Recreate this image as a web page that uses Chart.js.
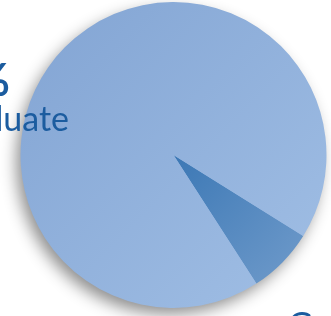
<!DOCTYPE html>
<html>
<head>
<meta charset="utf-8">
<script src="https://cdn.jsdelivr.net/npm/chart.js@4"></script>
<style>
  html, body { margin: 0; padding: 0; background: #fff; overflow: hidden; }
  #wrap { position: relative; width: 331px; height: 316px; overflow: hidden; }
  canvas { position: absolute; left: 0; top: 0; }
  .lbl { position: absolute; color: #1b5c9f; font-family: Lato, sans-serif; white-space: nowrap; line-height: 1; }
  #pct { right: 321px; top: 56px; font-size: 46px; font-weight: bold; }
  #name { right: 262px; top: 101px; font-size: 34px; }
  #grad { left: 288px; top: 307px; font-size: 34px; }
</style>
</head>
<body>
<div id="wrap">
  <canvas id="pie" width="331" height="316"></canvas>
  <div class="lbl" id="pct">93%</div>
  <div class="lbl" id="name">Undergraduate</div>
  <div class="lbl" id="grad">Graduate</div>
</div>
<script>
const labels = ['Graduate', 'Undergraduate'];
const shares = [7, 93];
const colorsFrom = ['#3c78b5', '#82a4d3'];
const colorsTo = ['#6795c7', '#a1bfe5'];

const shadowPlugin = {
  id: 'shadow',
  beforeDatasetsDraw(chart) {
    const arc = chart.getDatasetMeta(0).data[0];
    if (!arc) return;
    const ctx = chart.ctx;
    ctx.save();
    ctx.shadowColor = 'rgba(0,0,0,0.45)';
    ctx.shadowBlur = 16;
    ctx.shadowOffsetX = -5;
    ctx.shadowOffsetY = 7;
    ctx.fillStyle = '#9ab8df';
    ctx.beginPath();
    ctx.arc(arc.x, arc.y, arc.outerRadius - 1, 0, Math.PI * 2);
    ctx.fill();
    ctx.restore();
  }
};

function fillFor(c) {
  const i = c.dataIndex;
  const chart = c.chart;
  const area = chart.chartArea;
  if (!area) return colorsFrom[i];
  let g;
  if (i === 0) {
    const arc = chart.getDatasetMeta(0).data[0];
    const cx = (area.left + area.right) / 2, cy = (area.top + area.bottom) / 2;
    const r = Math.min(area.right - area.left, area.bottom - area.top) / 2;
    g = chart.ctx.createRadialGradient(cx, cy, 0, cx, cy, r);
  } else {
    g = chart.ctx.createLinearGradient(area.left, area.top, area.right, area.bottom);
  }
  g.addColorStop(0, colorsFrom[i]);
  g.addColorStop(1, colorsTo[i]);
  return g;
}

new Chart(document.getElementById('pie'), {
  type: 'pie',
  data: {
    labels: labels,
    datasets: [{
      data: shares,
      backgroundColor: fillFor,
      borderWidth: 0
    }]
  },
  options: {
    responsive: false,
    animation: false,
    rotation: 122,
    layout: { padding: { left: 18, right: 2, top: 2, bottom: 8 } },
    plugins: { legend: { display: false }, tooltip: { enabled: false } }
  },
  plugins: [shadowPlugin]
});
</script>
</body>
</html>
